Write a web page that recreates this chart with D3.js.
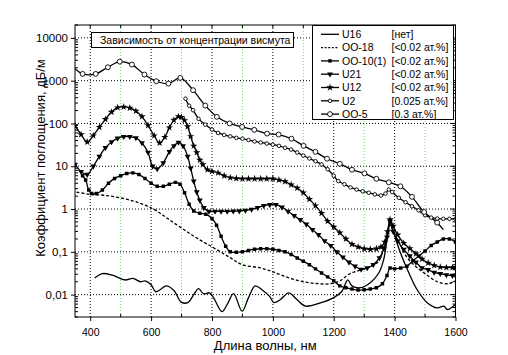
<!DOCTYPE html>
<html><head><meta charset="utf-8">
<script src="https://cdn.jsdelivr.net/npm/d3@7"></script>
<style>
body{margin:0;background:#fff}
svg{display:block}
text{font-family:"Liberation Sans",Arial,sans-serif;fill:#000}
</style>
</head><body>
<svg id="chart" width="508" height="355"></svg>
<script>
// ---------- data ----------
const xTicks = [400, 600, 800, 1000, 1200, 1400, 1600];
const xGreen = [500, 700, 900, 1100, 1300, 1500];
const yTicks = [0.01, 0.1, 1, 10, 100, 1000, 10000];
const yTickLabels = ["0,01", "0,1", "1", "10", "100", "1000", "10000"];
const seriesNames = ["U16", "OO-18", "OO-10(1)", "U21", "U12", "U2", "OO-5"];
const seriesNotes = ["[нет]", "[<0.02 ат.%]", "[<0.02 ат.%]", "[<0.02 ат.%]", "[<0.02 ат.%]", "[0.025 ат.%]", "[0.3 ат.%]"];
const titleText = "Зависимость от концентрации висмута";
const xTitle = "Длина волны, нм";
const yTitle = "Коэффициент поглощения, дБ/м";

const wlU16 = [415,440,475,515,540,565,580,600,615,630,650,675,700,722,740,756,772,792,805,833,850,871,899,920,942,964,990,1003,1025,1052,1079,1107,1156,1200,1227,1246,1260,1288,1320,1348,1364,1375,1386,1397,1419,1447,1474,1507,1540,1562,1573,1595,1600];
const valU16 = [0.0245,0.031,0.028,0.022,0.024,0.02,0.021,0.017,0.0117,0.013,0.016,0.0125,0.0066,0.0066,0.01,0.0138,0.0105,0.011,0.0085,0.004,0.0059,0.0105,0.0041,0.0085,0.016,0.013,0.009,0.0065,0.0077,0.011,0.0077,0.0054,0.0064,0.0085,0.012,0.022,0.016,0.0145,0.019,0.032,0.066,0.19,0.48,0.28,0.095,0.032,0.013,0.0065,0.0049,0.0054,0.0045,0.0055,0.006];

const wlOO18 = [355,400,445,500,555,610,650,700,750,805,860,900,960,1000,1050,1100,1150,1190,1220,1250,1280,1310,1345,1365,1375,1386,1400,1420,1440,1470,1500,1540,1575,1600];
const valOO18 = [2.5,2.2,2.1,1.82,1.44,0.98,0.63,0.36,0.21,0.125,0.073,0.05,0.042,0.034,0.025,0.02,0.018,0.018,0.021,0.03,0.036,0.042,0.058,0.12,0.22,0.42,0.26,0.14,0.075,0.045,0.031,0.02,0.018,0.021];

const wlOO10 = [375,385,395,405,420,440,460,480,500,520,540,560,580,600,620,640,660,680,695,710,725,740,760,780,800,815,830,845,860,880,900,920,940,960,980,1000,1020,1040,1060,1080,1100,1120,1140,1160,1180,1200,1220,1240,1260,1280,1300,1320,1340,1360,1375,1385,1400,1420,1440,1460,1480,1500,1520,1540,1560,1580,1600];
const valOO10 = [6.0,4.8,2.8,2.3,2.3,2.8,4.0,5.2,6.0,6.8,7.0,6.4,5.2,4.0,3.4,3.4,3.8,4.2,3.8,2.4,1.3,0.9,0.8,0.76,0.6,0.42,0.23,0.135,0.1,0.098,0.1,0.108,0.115,0.118,0.118,0.115,0.108,0.1,0.087,0.072,0.06,0.05,0.04,0.032,0.026,0.021,0.016,0.0145,0.0135,0.0128,0.013,0.0135,0.0145,0.018,0.028,0.042,0.04,0.042,0.046,0.062,0.08,0.105,0.14,0.17,0.2,0.2,0.17];

const wlU21 = [350,370,390,410,430,450,470,490,510,530,550,570,590,605,620,640,660,675,690,705,720,730,740,750,760,773,790,810,830,850,870,890,910,930,950,970,990,1010,1030,1050,1070,1090,1110,1130,1150,1170,1190,1210,1230,1250,1270,1290,1310,1330,1350,1365,1375,1385,1395,1410,1430,1450,1470,1490,1510,1530,1550,1570,1590,1600];
const valU21 = [11,7.5,6.4,10,17,27,37,45,49,49,46,35,21,10,8.7,12,22,30,36,30,17,9,4.5,2.5,1.6,1.07,0.88,0.88,0.88,0.88,0.89,0.9,0.93,0.98,1.08,1.2,1.26,1.27,1.1,0.88,0.7,0.56,0.44,0.33,0.25,0.18,0.14,0.1,0.075,0.057,0.046,0.039,0.042,0.05,0.072,0.12,0.22,0.52,0.3,0.18,0.113,0.08,0.057,0.042,0.038,0.033,0.031,0.029,0.028,0.028];

const wlU12 = [350,370,390,410,430,450,470,490,510,530,550,570,590,610,628,645,660,675,690,700,710,720,730,740,750,760,770,785,800,820,840,860,880,900,920,940,960,980,1000,1020,1040,1060,1080,1100,1120,1140,1160,1180,1200,1220,1240,1260,1280,1300,1320,1340,1355,1368,1377,1385,1395,1410,1430,1450,1470,1490,1510,1530,1550,1570,1590,1600];
const valU12 = [90,55,37,52,82,125,185,235,244,230,195,145,90,52,35,48,80,120,145,140,118,85,50,30,21,14,11,8.3,7.6,7.0,6.0,5.4,5.2,5.1,5.1,5.1,5.1,5.1,5.1,4.8,4.4,3.7,3.1,2.4,1.7,1.2,0.8,0.52,0.38,0.28,0.2,0.15,0.13,0.118,0.115,0.118,0.13,0.17,0.3,0.57,0.4,0.25,0.16,0.12,0.09,0.068,0.055,0.048,0.044,0.043,0.043,0.043];

const wlU2 = [713,725,738,756,778,800,820,840,860,880,900,920,940,960,980,1000,1020,1040,1060,1080,1100,1120,1140,1160,1180,1200,1215,1235,1255,1275,1295,1315,1335,1355,1370,1381,1392,1414,1436,1457,1479,1500,1520,1540,1560,1580,1600];
const valU2 = [380,260,204,128,94,72,60,54,50,46,44,41,38,36,34,32,30,27,24.5,21,17.8,15.2,13.1,11,8.5,6,4.5,3.8,3.2,2.86,2.6,2.4,2.2,2.07,2.3,2.86,2.5,1.83,1.44,1.16,0.93,0.72,0.63,0.6,0.59,0.59,0.58];

const wlOO5 = [350,375,418,458,497,537,578,617,657,696,738,778,816,858,899,939,981,1019,1061,1101,1140,1178,1220,1260,1301,1340,1381,1419,1457,1497,1540,1560];
const valOO5 = [1900,1440,1440,2060,2790,2380,1390,970,855,1160,600,262,143,100,83,71,58,55,44,30,21.7,15,11.4,8.3,6.8,5.1,4.2,3.4,1.93,0.85,0.48,0.33];

// ---------- layout ----------
const L = 75, R = 455.5, T = 25, B = 317;
const svg = d3.select("#chart");
const x = d3.scaleLinear().domain([350, 1600]).range([L, R]);
const y = d3.scaleLog().domain([0.003, 20000]).range([B, T]);

const zip = (w, v) => w.map((d, i) => ({wl: d, v: v[i]}));
const series = [
  {name: seriesNames[0], data: zip(wlU16, valU16), dash: null, marker: null},
  {name: seriesNames[1], data: zip(wlOO18, valOO18), dash: "3,2", marker: null},
  {name: seriesNames[2], data: zip(wlOO10, valOO10), dash: null, marker: "square"},
  {name: seriesNames[3], data: zip(wlU21, valU21), dash: null, marker: "tri"},
  {name: seriesNames[4], data: zip(wlU12, valU12), dash: null, marker: "star"},
  {name: seriesNames[5], data: zip(wlU2, valU2), dash: null, marker: "circleS"},
  {name: seriesNames[6], data: zip(wlOO5, valOO5), dash: null, marker: "circleL"}
];

// clip
svg.append("defs").append("clipPath").attr("id", "clip")
  .append("rect").attr("x", L).attr("y", T).attr("width", R - L).attr("height", B - T);

// grid
const grid = svg.append("g");
grid.selectAll(".gy").data(yTicks).enter().append("line")
  .attr("x1", L).attr("x2", R).attr("y1", d => y(d)).attr("y2", d => y(d))
  .attr("stroke", "#000").attr("stroke-width", 1).attr("stroke-dasharray", "1,2");
grid.selectAll(".gx").data(xTicks.filter(d => d < 1600)).enter().append("line")
  .attr("x1", d => x(d)).attr("x2", d => x(d)).attr("y1", T).attr("y2", B)
  .attr("stroke", "#000").attr("stroke-width", 1).attr("stroke-dasharray", "1,2");
grid.selectAll(".gg").data(xGreen).enter().append("line")
  .attr("x1", d => x(d)).attr("x2", d => x(d)).attr("y1", T).attr("y2", B)
  .attr("stroke", "#6ad86a").attr("stroke-width", 1).attr("stroke-dasharray", "1,2");

// markers
function markerPath(type) {
  if (type === "square") return d3.symbol(d3.symbolSquare, 12)();
  if (type === "tri") return d3.symbol(d3.symbolTriangle, 15)();
  if (type === "star") return d3.symbol(d3.symbolStar, 17)();
  if (type === "circleS") return d3.symbol(d3.symbolCircle, 10)();
  return d3.symbol(d3.symbolCircle, 19)();
}
function drawMarker(g, type, px, py) {
  const p = g.append("path").attr("d", markerPath(type))
    .attr("transform", `translate(${px},${py})` + (type === "tri" ? " rotate(180)" : ""));
  if (type === "circleS" || type === "circleL") p.attr("fill", "#fff").attr("stroke", "#000").attr("stroke-width", 0.9);
  else p.attr("fill", "#000");
}

const line = d3.line().x(d => x(d.wl)).y(d => y(d.v)).curve(d3.curveCatmullRom.alpha(0.5));
const plot = svg.append("g").attr("clip-path", "url(#clip)");
series.forEach(s => {
  plot.append("path").datum(s.data).attr("d", line)
    .attr("fill", "none").attr("stroke", "#000").attr("stroke-width", 1.3)
    .attr("stroke-dasharray", s.dash);
});
series.forEach(s => {
  if (!s.marker) return;
  const g = plot.append("g");
  s.data.filter(d => !(s.marker === "circleL" && (d.wl < 370 || d.wl > 1545)))
    .forEach(d => drawMarker(g, s.marker, x(d.wl), y(d.v)));
});

// axes
const yAxis = d3.axisLeft(y).tickValues(yTicks).tickFormat((d, i) => yTickLabels[i]).tickSize(4).tickPadding(3);
const gy = svg.append("g").attr("transform", `translate(${L},0)`).call(yAxis);
gy.select(".domain").remove();
gy.selectAll("text").style("font-size", "11.5px").style("font-family", '"Liberation Sans",Arial,sans-serif');

const minorY = y.ticks().filter(d => !yTicks.includes(d) && d >= 0.003 && d <= 20000);
svg.append("g").selectAll("line").data(minorY).enter().append("line")
  .attr("x1", L).attr("x2", L + 3).attr("y1", d => y(d)).attr("y2", d => y(d)).attr("stroke", "#000");
svg.append("g").selectAll("line").data(minorY).enter().append("line")
  .attr("x1", R).attr("x2", R - 3).attr("y1", d => y(d)).attr("y2", d => y(d)).attr("stroke", "#000");
svg.append("g").selectAll("line").data(yTicks).enter().append("line")
  .attr("x1", R).attr("x2", R - 5).attr("y1", d => y(d)).attr("y2", d => y(d)).attr("stroke", "#000");

const xAxis = d3.axisBottom(x).tickValues(xTicks).tickFormat(d3.format("d")).tickSize(4).tickPadding(8);
const gx = svg.append("g").attr("transform", `translate(0,${B})`).call(xAxis);
gx.select(".domain").remove();
gx.selectAll("text").style("font-size", "10.5px").style("font-family", '"Liberation Sans",Arial,sans-serif');
svg.append("g").selectAll("line").data(xGreen).enter().append("line")
  .attr("x1", d => x(d)).attr("x2", d => x(d)).attr("y1", B).attr("y2", B - 3).attr("stroke", "#000");
svg.append("g").selectAll("line").data(xTicks.concat(xGreen)).enter().append("line")
  .attr("x1", d => x(d)).attr("x2", d => x(d)).attr("y1", T).attr("y2", T + 3).attr("stroke", "#000");

// frame
svg.append("rect").attr("x", L).attr("y", T).attr("width", R - L).attr("height", B - T)
  .attr("fill", "none").attr("stroke", "#000").attr("stroke-width", 1);

// titles
svg.append("text").attr("x", (L + R) / 2).attr("y", 349.5).attr("text-anchor", "middle")
  .style("font-size", "13px").text(xTitle);
svg.append("text").attr("transform", "translate(45,158) rotate(-90)").attr("text-anchor", "middle")
  .style("font-size", "13px").text(yTitle);

// chart title box
svg.append("rect").attr("x", 91.5).attr("y", 32.5).attr("width", 202).attr("height", 15)
  .attr("fill", "#fff").attr("stroke", "#000").attr("stroke-width", 1);
svg.append("text").attr("x", 100).attr("y", 44).style("font-size", "10.5px").text(titleText);

// legend
const lg = svg.append("g");
lg.append("rect").attr("x", 312.5).attr("y", 25.5).attr("width", 141).attr("height", 94)
  .attr("fill", "#fff").attr("stroke", "#000").attr("stroke-width", 1);
series.forEach((s, i) => {
  const cy = 34.3 + i * 13.3;
  lg.append("line").attr("x1", 321).attr("x2", 339).attr("y1", cy).attr("y2", cy)
    .attr("stroke", "#000").attr("stroke-width", 1.3).attr("stroke-dasharray", s.dash ? "2,1.6" : null);
  if (s.marker) drawMarker(lg, s.marker, 330, cy);
  lg.append("text").attr("x", 342).attr("y", cy + 3.8).style("font-size", "10.5px").text(s.name);
  lg.append("text").attr("x", 391.5).attr("y", cy + 3.8).style("font-size", "10.5px").text(seriesNotes[i]);
});
</script>
</body></html>
